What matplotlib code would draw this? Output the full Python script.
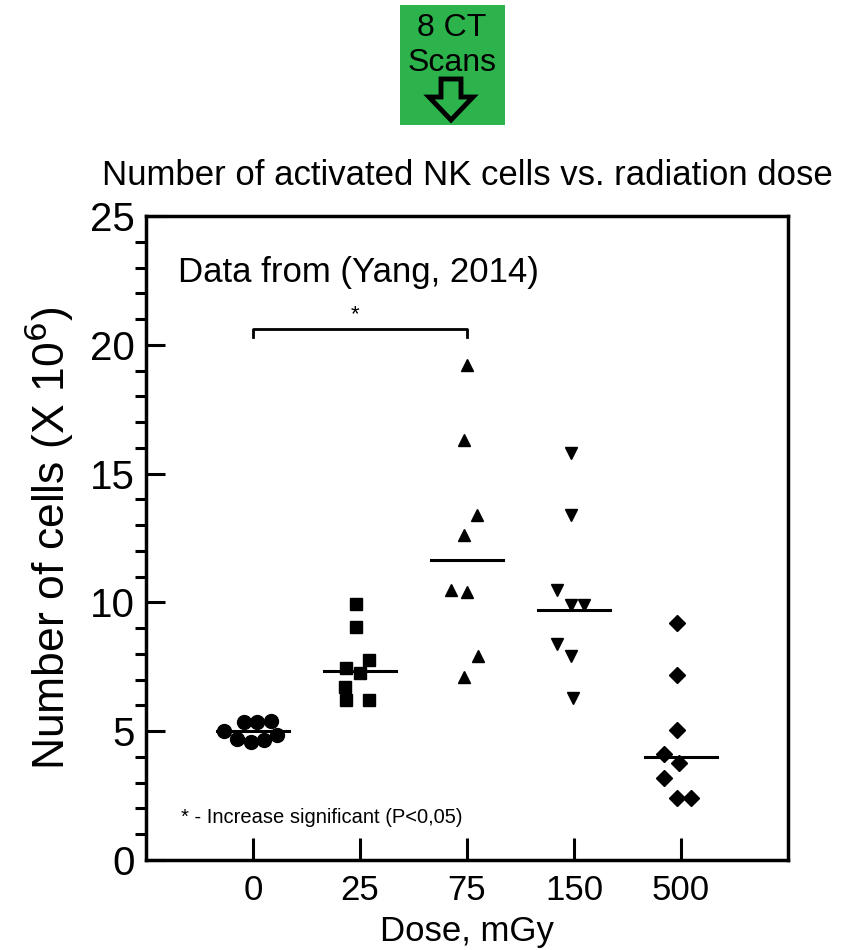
import matplotlib.pyplot as plt
from matplotlib.patches import Polygon

plt.rcParams['font.family'] = ['Liberation Sans', 'DejaVu Sans']

doses = ['0', '25', '75', '150', '500']
markers = ['o', 's', '^', 'v', 'D']
msizes = [10, 9, 9, 9, 8.5]

vals_0 = [5.0, 5.35, 5.35, 5.4, 4.7, 4.6, 4.65, 4.85]
dx_0 = [-0.27, -0.08, 0.04, 0.17, -0.15, -0.02, 0.10, 0.22]
vals_25 = [9.95, 9.05, 7.75, 7.45, 7.25, 6.7, 6.2, 6.2]
dx_25 = [-0.04, -0.04, 0.08, -0.13, 0.0, -0.14, -0.13, 0.08]
vals_75 = [19.2, 16.3, 13.4, 12.6, 10.5, 10.4, 7.9, 7.1]
dx_75 = [0.0, -0.03, 0.09, -0.03, -0.15, 0.0, 0.10, -0.03]
vals_150 = [15.8, 13.4, 10.5, 9.9, 9.9, 8.4, 7.9, 6.3]
dx_150 = [-0.03, -0.03, -0.16, -0.03, 0.09, -0.16, -0.03, -0.01]
vals_500 = [9.2, 7.2, 5.05, 4.1, 3.75, 3.2, 2.4, 2.4]
dx_500 = [-0.04, -0.04, -0.04, -0.16, -0.02, -0.16, -0.04, 0.09]
medians = [5.0, 7.35, 11.65, 9.7, 4.0]

groups = [vals_0, vals_25, vals_75, vals_150, vals_500]
offsets = [dx_0, dx_25, dx_75, dx_150, dx_500]

fig = plt.figure(figsize=(8.52, 9.5), dpi=100)
ax = fig.add_axes([146/852, 90/950, 642/852, 644/950])

for i in range(len(doses)):
    xs = [i + d for d in offsets[i]]
    ax.plot(xs, groups[i], linestyle='none', marker=markers[i], color='black',
            markersize=msizes[i])
    ax.plot([i - 0.34, i + 0.34], [medians[i], medians[i]], color='black', lw=2.2)

ax.set_xlim(-1, 5)
ax.set_ylim(0, 25)
ax.set_xticks(range(len(doses)))
ax.set_xticklabels(doses)
ax.set_yticks(range(0, 26, 5))
ax.set_yticks(range(0, 26), minor=True)
ax.tick_params(axis='both', direction='in', width=2.2, labelsize=25)
ax.tick_params(axis='y', which='major', length=14, pad=8, labelsize=29)
ax.tick_params(axis='y', which='minor', length=8, width=2.2)
ax.tick_params(axis='x', which='major', length=16, pad=10)
for s in ax.spines.values():
    s.set_linewidth(2.5)

ax.set_xlabel('Dose, mGy', fontsize=25, labelpad=6)
ax.set_ylabel('Number of cells (X 10$^6$)', fontsize=32, labelpad=10)
ax.set_title('Number of activated NK cells vs. radiation dose', fontsize=25, pad=22)

ax.text(-0.7, 22.8, 'Data from (Yang, 2014)', fontsize=25, va='center')

# significance bracket between 0 and 75 mGy
ax.plot([0, 0, 2, 2], [20.3, 20.6, 20.6, 20.3], color='black', lw=2)
ax.text(0.95, 20.75, '*', fontsize=16, ha='center', va='bottom')
ax.text(-0.67, 1.65, '* - Increase significant (P<0,05)', fontsize=14.5, va='center')

# green "8 CT Scans" box
bx = fig.add_axes([400/852, 825/950, 105/852, 120/950])
bx.set_facecolor('#2db34b')
bx.set_xlim(0, 105)
bx.set_ylim(0, 120)
bx.set_xticks([])
bx.set_yticks([])
for s in bx.spines.values():
    s.set_visible(False)
bx.text(52, 97, '8 CT', fontsize=23, ha='center', va='center')
bx.text(52, 62, 'Scans', fontsize=23, ha='center', va='center')
arrow = [(41, 46), (61, 46), (61, 28), (73, 28), (51, 5), (29, 28), (41, 28)]
bx.add_patch(Polygon(arrow, closed=True, facecolor='#2db34b', edgecolor='black', lw=3.5))

fig.savefig('out.png', dpi=100)
